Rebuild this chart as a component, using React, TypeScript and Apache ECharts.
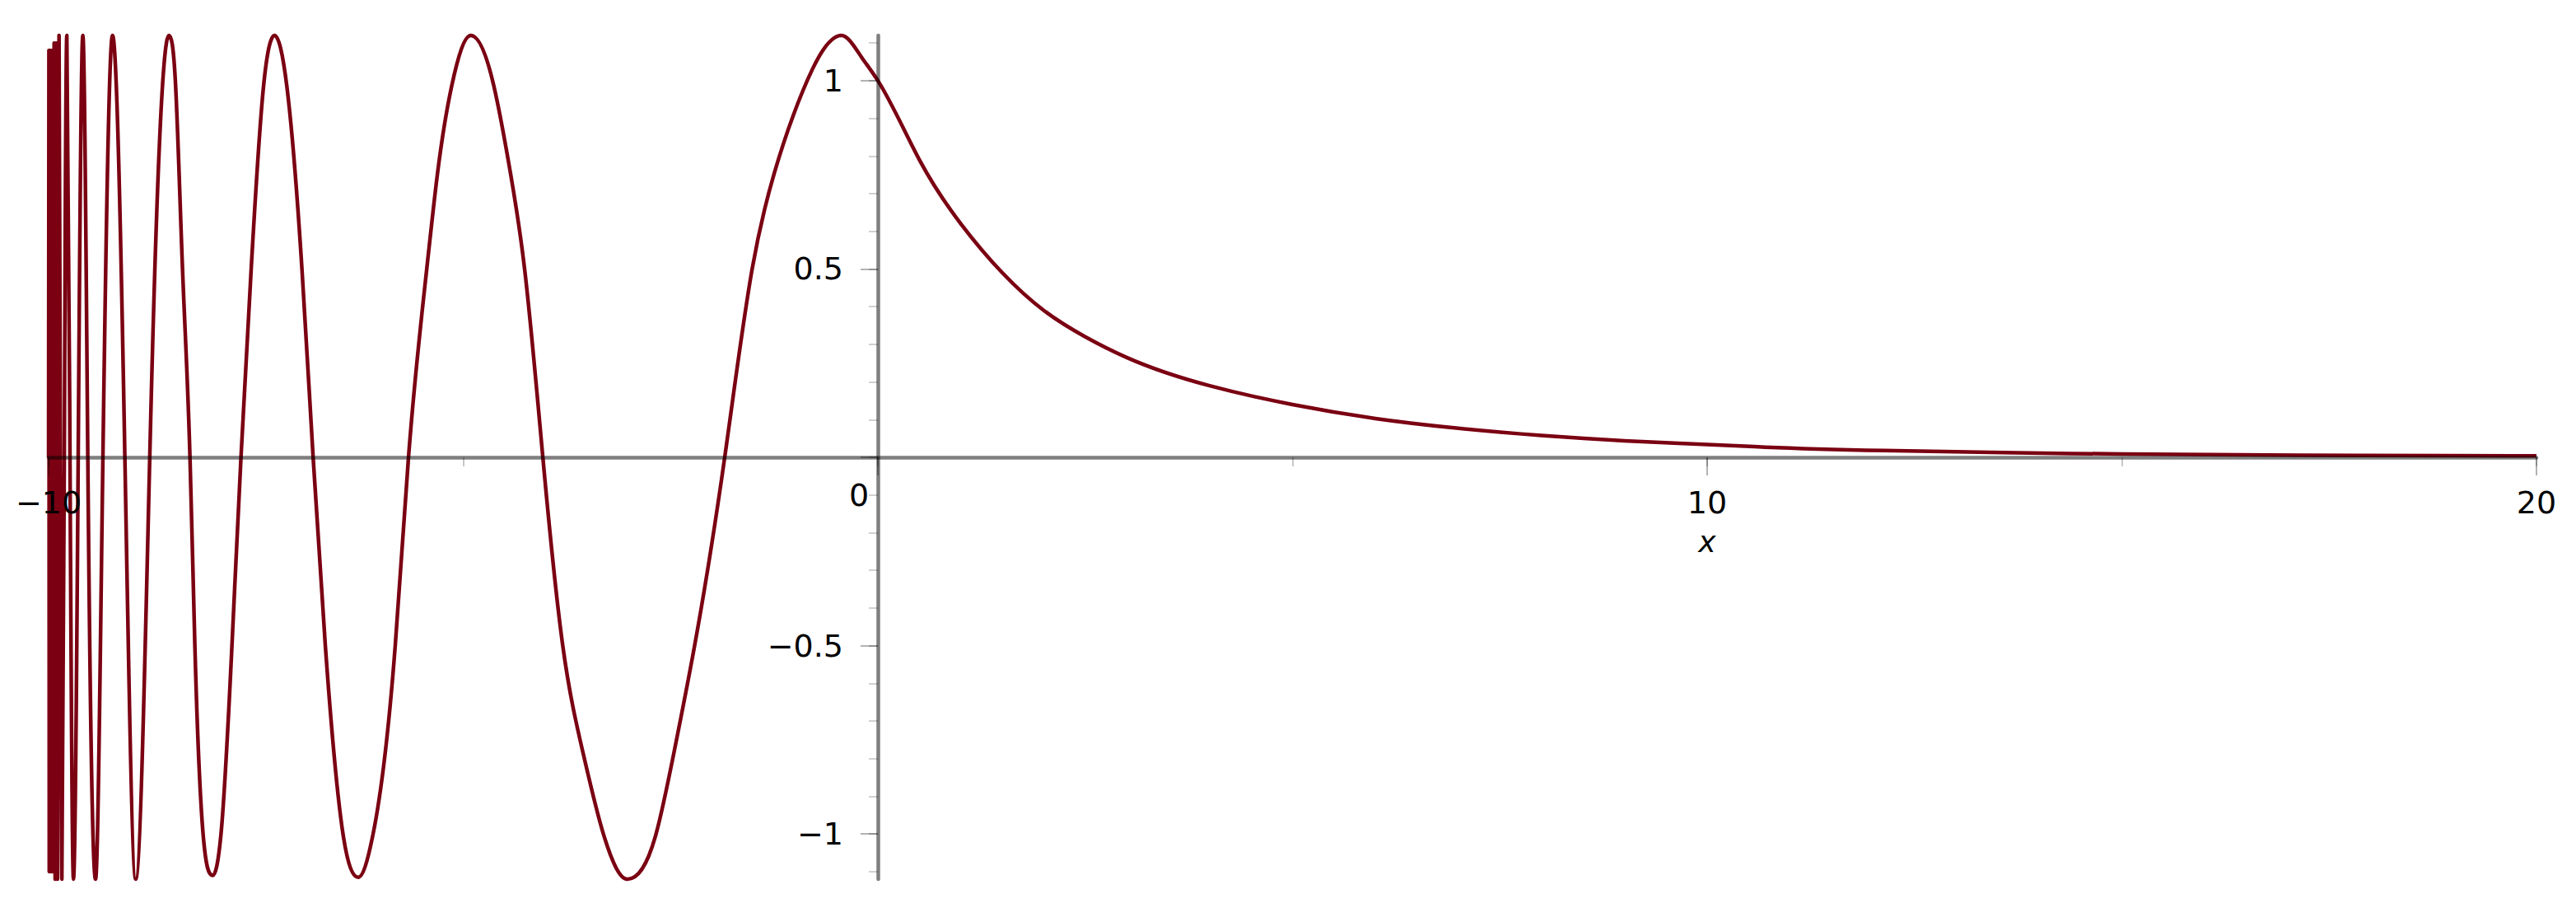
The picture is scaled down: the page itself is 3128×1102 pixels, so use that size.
import React, { useEffect, useRef } from "react";
import * as echarts from "echarts";

// Dense oscillations crowding against x = -10
const bandX = [-10, -9.996, -9.992, -9.988, -9.984, -9.979, -9.974, -9.968, -9.961, -9.953, -9.944, -9.933, -9.921, -9.908, -9.893];
const bandY = [0, 1.08, -1.1, 1.08, -1.1, 1.08, -1.1, 1.08, -1.1, 1.08, -1.1, 1.1, -1.12, 1.1, -1.12];

// Oscillating part, x < 0
const oscX = [
  -9.874, -9.857, -9.84, -9.81, -9.78, -9.742, -9.7, -9.643, -9.587, -9.527,
  -9.434, -9.345, -9.229, -9.08, -8.95, -8.78, -8.55, -8.468, -8.385, -8.295,
  -8.236, -8.137, -8.02, -7.921, -7.789, -7.68, -7.557, -7.408, -7.276, -7.127,
  -6.945, -6.81, -6.663, -6.45, -6.266, -6.087, -5.82, -5.66, -5.44, -5.31,
  -5.14, -4.909, -4.63, -4.43, -4.26, -4.04, -3.8, -3.555, -3.31, -3.022,
  -2.675, -2.46, -2.21, -1.847, -1.516, -1.25, -1.02, -0.79, -0.44, -0.19,
];
const oscY = [
  1.12, 0, -1.12, 0, 1.12, 0, -1.12, 0, 1.12, 0,
  -1.12, 0, 1.12, 0, -1.12, 0, 1.12, 0.985, 0.5, 0,
  -0.5, -1.0, -1.11, -1.0, -0.5, 0, 0.5, 0.985, 1.12, 0.985,
  0.5, 0, -0.5, -1.0, -1.115, -1.0, -0.5, 0, 0.5, 0.754,
  0.985, 1.12, 0.985, 0.754, 0.5, 0, -0.5, -0.785, -1.0, -1.12,
  -1.0, -0.785, -0.5, 0, 0.5, 0.754, 0.908, 1.03, 1.12, 1.06,
];

// Decaying part, x >= 0
const decayX = [0, 0.5, 1, 1.5, 2, 2.5, 3, 4, 5, 6, 7, 8, 9, 10, 10.7, 12.13, 13.56, 15, 16.42, 17.84, 20];
const decayY = [1.0, 0.79, 0.62, 0.49, 0.39, 0.32, 0.265, 0.19, 0.14, 0.103, 0.077, 0.058, 0.044, 0.034, 0.027, 0.018, 0.0124, 0.0088, 0.0066, 0.005, 0.0036];

// Axis ticks
const yMajorTicks = [-1, -0.5, 0, 0.5, 1];
const yLabelValues = [-1, -0.5, 0.5, 1];
const yMinorTicks = [-1.1, -1.0, -0.9, -0.8, -0.7, -0.6, -0.5, -0.4, -0.3, -0.2, -0.1, 0, 0.1, 0.2, 0.3, 0.4, 0.5, 0.6, 0.7, 0.8, 0.9, 1.0, 1.1];
const xMin = -10;
const xMax = 20;
const yMin = -1.12;
const yMax = 1.12;

const W = 3128;
const H = 1102;
const G = { left: 59, right: 48, top: 43, bottom: 35 };

const FONT = "DejaVu Sans";
const LINE_COLOR = "#7a0012";
const fmtNum = (v: number) => (v < 0 ? "\u2212" + String(Math.abs(v)) : String(v));

// Tangent at each read point (natural cubic spline estimate, then limited so that the
// curve never overshoots between two neighbouring points - Fritsch-Carlson).
function tangents(xs: number[], ys: number[]): number[] {
  const n = xs.length;
  const M = new Array(n).fill(0);
  const a: number[] = [], b: number[] = [], c: number[] = [], d: number[] = [];
  for (let i = 1; i < n - 1; i++) {
    const h0 = xs[i] - xs[i - 1];
    const h1 = xs[i + 1] - xs[i];
    a.push(h0);
    b.push(2 * (h0 + h1));
    c.push(h1);
    d.push(6 * ((ys[i + 1] - ys[i]) / h1 - (ys[i] - ys[i - 1]) / h0));
  }
  const m = b.length;
  for (let i = 1; i < m; i++) {
    const w = a[i] / b[i - 1];
    b[i] -= w * c[i - 1];
    d[i] -= w * d[i - 1];
  }
  const sol = new Array(m).fill(0);
  if (m > 0) {
    sol[m - 1] = d[m - 1] / b[m - 1];
    for (let i = m - 2; i >= 0; i--) sol[i] = (d[i] - c[i] * sol[i + 1]) / b[i];
  }
  for (let i = 0; i < m; i++) M[i + 1] = sol[i];

  const sec: number[] = [];
  for (let i = 0; i < n - 1; i++) sec.push((ys[i + 1] - ys[i]) / (xs[i + 1] - xs[i]));
  const t = new Array(n).fill(0);
  for (let i = 0; i < n - 1; i++) {
    const h = xs[i + 1] - xs[i];
    t[i] = sec[i] - (h * (2 * M[i] + M[i + 1])) / 6;
  }
  {
    const h = xs[n - 1] - xs[n - 2];
    t[n - 1] = sec[n - 2] + (h * (M[n - 2] + 2 * M[n - 1])) / 6;
  }
  for (let i = 1; i < n - 1; i++) {
    if (sec[i - 1] * sec[i] <= 0) t[i] = 0;
  }
  for (let k = 0; k < n - 1; k++) {
    const s = sec[k];
    if (s === 0) { t[k] = 0; t[k + 1] = 0; continue; }
    if (t[k] * s < 0) t[k] = 0;
    if (t[k + 1] * s < 0) t[k + 1] = 0;
    const al = t[k] / s;
    const be = t[k + 1] / s;
    const r = al * al + be * be;
    if (r > 9) {
      const tau = 3 / Math.sqrt(r);
      t[k] = tau * al * s;
      t[k + 1] = tau * be * s;
    }
  }
  return t;
}

export default function App() {
  const ref = useRef<HTMLDivElement>(null);
  useEffect(() => {
    if (!ref.current) return;
    const chart = echarts.init(ref.current, undefined, { renderer: "svg" });

    const smoothX = [...oscX, ...decayX];
    const smoothY = [...oscY, ...decayY];
    const T = tangents(smoothX, smoothY);
    const data: number[][] = [
      ...bandX.map((x, i) => [x, bandY[i]]),
      ...smoothX.map((x, i) => [x, smoothY[i]]),
    ];

    const renderCurve = (params: any, api: any) => {
      if (params.dataIndex !== 0) return null;
      const P = (x: number, y: number) => {
        const p = api.coord([x, y]);
        return p[0].toFixed(2) + " " + p[1].toFixed(2);
      };
      let d = "M " + P(bandX[0], bandY[0]);
      for (let i = 1; i < bandX.length; i++) d += " L " + P(bandX[i], bandY[i]);
      d += " L " + P(smoothX[0], smoothY[0]);
      for (let i = 0; i < smoothX.length - 1; i++) {
        const x0 = smoothX[i], x1 = smoothX[i + 1];
        const y0 = smoothY[i], y1 = smoothY[i + 1];
        const h = x1 - x0;
        d += " C " + P(x0 + h / 3, y0 + (T[i] * h) / 3) + " " + P(x1 - h / 3, y1 - (T[i + 1] * h) / 3) + " " + P(x1, y1);
      }
      return {
        type: "path",
        shape: { pathData: d },
        style: { fill: "none", stroke: LINE_COLOR, lineWidth: 4.5, lineJoin: "round", lineCap: "butt" },
      };
    };

    // axes are drawn through the origin: shift them from the grid edge to x = 0 / y = 0
    const gw = W - G.left - G.right;
    const gh = H - G.top - G.bottom;
    const yAxisShift = -gw * ((0 - xMin) / (xMax - xMin));
    const xAxisShift = -gh * ((0 - yMin) / (yMax - yMin));

    const axisColor = "rgba(0,0,0,0.5)";
    chart.setOption({
      animation: false,
      backgroundColor: "#ffffff",
      grid: { ...G, containLabel: false, outerBoundsMode: "none" },
      xAxis: [
        {
          type: "value",
          min: xMin,
          max: xMax,
          interval: 10,
          position: "bottom",
          offset: xAxisShift,
          z: 5,
          axisLine: { show: true, onZero: false, lineStyle: { color: axisColor, width: 4.5 } },
          axisTick: { show: true, length: 22, lineStyle: { color: "rgba(0,0,0,0.3)", width: 2 } },
          splitLine: { show: false },
          axisLabel: {
            show: true,
            interval: 0,
            margin: 35,
            verticalAlign: "top",
            fontFamily: FONT,
            fontSize: 38,
            lineHeight: 40,
            color: "#000",
            hideOverlap: false,
            formatter: (v: number) => {
              if (v === 0) return "{z|0}";
              if (v === 10) return "{d|10}\n{n|x}";
              return "{d|" + fmtNum(v) + "}";
            },
            rich: {
              d: { fontFamily: FONT, fontSize: 38, lineHeight: 40, color: "#000" },
              z: { fontFamily: FONT, fontSize: 38, lineHeight: 22, padding: [0, 46, 0, 0], color: "#000" },
              n: { fontFamily: FONT, fontSize: 36, fontStyle: "italic", lineHeight: 54, color: "#000" },
            },
          },
        },
        {
          type: "value",
          min: xMin,
          max: xMax,
          interval: 5,
          position: "bottom",
          offset: xAxisShift,
          z: 5,
          axisLine: { show: false, onZero: false },
          axisTick: { show: true, length: 11, lineStyle: { color: "rgba(0,0,0,0.22)", width: 2 } },
          splitLine: { show: false },
          axisLabel: { show: false },
        },
      ],
      yAxis: [
        {
          type: "value",
          min: yMin,
          max: yMax,
          position: "left",
          offset: yAxisShift,
          z: 5,
          axisLine: { show: true, onZero: false, lineStyle: { color: axisColor, width: 4.5 } },
          axisTick: { show: true, length: 21, customValues: yMajorTicks, lineStyle: { color: "rgba(0,0,0,0.3)", width: 2 } },
          splitLine: { show: false },
          axisLabel: {
            show: true,
            customValues: yLabelValues,
            margin: 42,
            fontFamily: FONT,
            fontSize: 38,
            color: "#000",
            hideOverlap: false,
            formatter: (v: number) => fmtNum(v),
          },
        },
        {
          type: "value",
          min: yMin,
          max: yMax,
          position: "left",
          offset: yAxisShift,
          z: 5,
          axisLine: { show: false, onZero: false },
          axisTick: { show: true, length: 11, customValues: yMinorTicks, lineStyle: { color: "rgba(0,0,0,0.18)", width: 2 } },
          splitLine: { show: false },
          axisLabel: { show: false },
        },
      ],
      series: [
        {
          type: "custom",
          coordinateSystem: "cartesian2d",
          xAxisIndex: 0,
          yAxisIndex: 0,
          data,
          encode: { x: 0, y: 1 },
          renderItem: renderCurve,
          clip: false,
          silent: true,
          z: 2,
        },
      ],
    });
    return () => chart.dispose();
  }, []);
  return (
    <div
      ref={ref}
      style={{ position: "absolute", left: 0, top: 0, width: W, height: H, background: "#fff" }}
    />
  );
}
